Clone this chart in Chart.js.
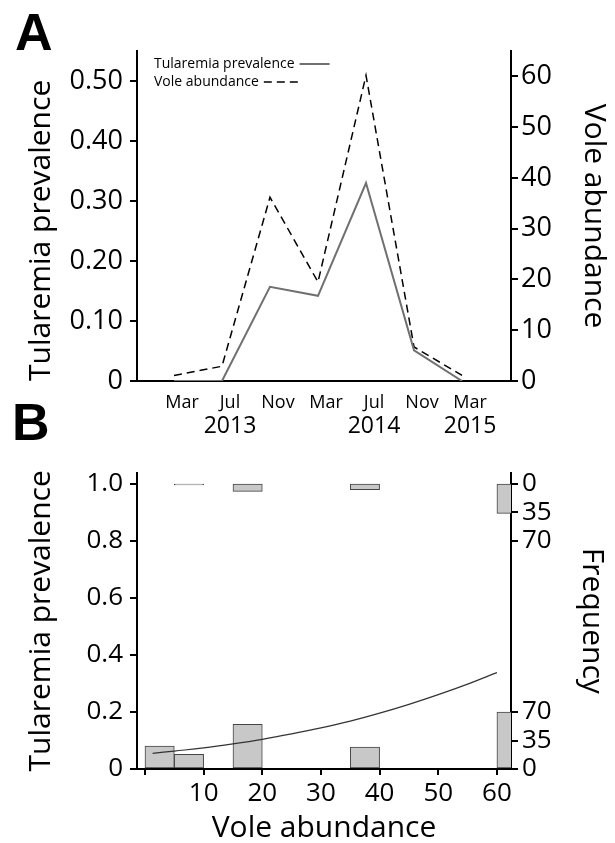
<!DOCTYPE html>
<html>
<head>
<meta charset="utf-8">
<script src="https://cdn.jsdelivr.net/npm/chart.js@4.4.1/dist/chart.umd.min.js"></script>
<style>
  html, body { margin: 0; padding: 0; background: #fff; }
  #wrap { position: relative; width: 615px; height: 843px; overflow: hidden; }
  canvas { position: absolute; left: 0; }
  .panel { position: absolute; font: bold 52px "Liberation Sans", Arial, sans-serif; line-height: 1; color: #000; }
</style>
</head>
<body>
<div id="wrap">
  <canvas id="chartA" width="615" height="450" style="top:0"></canvas>
  <canvas id="chartB" width="615" height="393" style="top:450px"></canvas>
  <div class="panel" style="left:15px;top:6px">A</div>
  <div class="panel" style="left:12px;top:396px">B</div>
</div>
<script>
"use strict";
// panel A: time series
const months = ["Mar", "Jul", "Nov", "Mar", "Jul", "Nov", "Mar"];
const years = ["", "2013", "", "", "2014", "", "2015"];
const prevalence = [0, 0, 0.157, 0.142, 0.33, 0.051, 0];
const voleAbundance = [1.1, 2.9, 36.2, 19.5, 60.2, 6.7, 1.1];
const prevTicksA = [0, 0.1, 0.2, 0.3, 0.4, 0.5];
const voleTicksA = [0, 10, 20, 30, 40, 50, 60];

// panel B: prevalence vs abundance
const voleX = [1.3, 5, 10, 15, 20, 25, 30, 35, 40, 45, 50, 55, 60];
const fittedPrev = [0.055, 0.063, 0.074, 0.088, 0.104, 0.123, 0.144, 0.168, 0.196, 0.227, 0.261, 0.298, 0.338];
const binsNeg = [2.5, 7.5, 17.5, 37.5, 62.5];
const freqNeg = [28, 18, 55, 27, 70];
const binsPos = [7.5, 17.5, 37.5, 62.5];
const freqPos = [1.2, 9, 7, 36];
const prevTicksB = [0, 0.2, 0.4, 0.6, 0.8, 1.0];
const freqTicks = [0, 35, 70];
const abundTicksB = [0, 10, 20, 30, 40, 50, 60];

const FONT = "'Open Sans', sans-serif";
Chart.defaults.font.family = FONT;
Chart.defaults.color = "#000";

const axisBorder = { color: "#000", width: 2 };
const tickGrid = (len) => ({ drawOnChartArea: false, offset: false, color: "#000", lineWidth: 2, tickLength: len });

// legend drawn inside the plot area, text first then the line sample
const insideLegend = {
  id: "insideLegend",
  afterDatasetsDraw(chart) {
    const ctx = chart.ctx;
    ctx.save();
    ctx.font = "14px " + FONT;
    ctx.textBaseline = "middle";
    ctx.fillStyle = "#000";
    chart.data.datasets.forEach((ds, i) => {
      const x = 154, y = 64 + i * 18;
      ctx.fillText(ds.label, x, y);
      const w = ctx.measureText(ds.label).width;
      ctx.beginPath();
      ctx.strokeStyle = ds.borderColor;
      ctx.lineWidth = ds.borderWidth;
      ctx.setLineDash(ds.borderDash || []);
      ctx.moveTo(x + w + 5, y);
      ctx.lineTo(x + w + 5 + (ds.borderDash ? 34 : 30), y);
      ctx.stroke();
    });
    ctx.restore();
  }
};

new Chart(document.getElementById("chartA"), {
  type: "line",
  data: {
    datasets: [
      {
        label: "Tularemia prevalence",
        data: prevalence.map((v, i) => ({ x: i, y: v })),
        borderColor: "#707070",
        borderWidth: 2,
        pointRadius: 0,
        yAxisID: "y",
      },
      {
        label: "Vole abundance",
        data: voleAbundance.map((v, i) => ({ x: i, y: v })),
        borderColor: "#000",
        borderWidth: 1.5,
        borderDash: [8, 5],
        pointRadius: 0,
        yAxisID: "y1",
      },
    ],
  },
  options: {
    responsive: false,
    animation: false,
    layout: { padding: { top: 51, left: 0, right: 0, bottom: 0 } },
    plugins: { legend: { display: false }, tooltip: { enabled: false } },
    scales: {
      x: {
        type: "linear",
        min: -0.77,
        max: 7.02,
        weight: 0,
        afterBuildTicks: (s) => { s.ticks = months.map((m, i) => ({ value: i })); },
        afterFit: (s) => { s.height = 32; },
        ticks: {
          callback: (v) => months[v],
          font: { size: 18 },
          padding: 11,
          labelOffset: 8,
          maxRotation: 0,
          autoSkip: false,
        },
        grid: { drawOnChartArea: false, drawTicks: false },
        border: axisBorder,
      },
      x2: {
        type: "linear",
        position: "bottom",
        min: -0.77,
        max: 7.02,
        weight: 1,
        afterBuildTicks: (s) => {
          s.ticks = years.map((y, i) => ({ value: i })).filter((t) => years[t.value]);
        },
        afterFit: (s) => { s.height = 37; },
        ticks: {
          callback: (v) => years[v],
          font: { size: 23 },
          padding: 0,
          labelOffset: 8,
          maxRotation: 0,
          autoSkip: false,
        },
        grid: { display: false, drawTicks: false },
        border: { display: false },
      },
      y: {
        position: "left",
        min: 0,
        max: 0.55,
        afterBuildTicks: (s) => { s.ticks = prevTicksA.map((v) => ({ value: v })); },
        afterFit: (s) => { s.width = 137; },
        ticks: {
          callback: (v) => (v === 0 ? "0" : v.toFixed(2)),
          font: { size: 27 },
          padding: 7,
        },
        grid: tickGrid(7),
        border: axisBorder,
        title: {
          display: true,
          text: "Tularemia prevalence",
          align: "start",
          font: { size: 30, lineHeight: 1.2 },
          padding: { top: 23, bottom: 0 },
        },
      },
      y1: {
        position: "right",
        min: 0,
        max: 65,
        afterBuildTicks: (s) => { s.ticks = voleTicksA.map((v) => ({ value: v })); },
        afterFit: (s) => { s.width = 104; },
        ticks: { font: { size: 27 }, padding: 3 },
        grid: tickGrid(7),
        border: axisBorder,
        title: {
          display: true,
          text: "Vole abundance",
          font: { size: 30, lineHeight: 1.2 },
          padding: { top: 3, bottom: 0 },
        },
      },
    },
  },
  plugins: [insideLegend],
});

new Chart(document.getElementById("chartB"), {
  type: "bar",
  data: {
    datasets: [
      {
        type: "line",
        label: "Fitted prevalence",
        data: voleX.map((x, i) => ({ x: x, y: fittedPrev[i] })),
        borderColor: "#333",
        borderWidth: 1.2,
        tension: 0.4,
        pointRadius: 0,
        yAxisID: "y",
        order: 0,
      },
      {
        label: "Negative",
        data: binsNeg.map((x, i) => ({ x: x, y: freqNeg[i] })),
        backgroundColor: "#c8c8c8",
        borderColor: "#444",
        borderWidth: 1,
        borderSkipped: false,
        grouped: false,
        barPercentage: 1,
        categoryPercentage: 1,
        yAxisID: "yBot",
        order: 1,
      },
      {
        label: "Positive",
        data: binsPos.map((x, i) => ({ x: x, y: freqPos[i] })),
        backgroundColor: "#c8c8c8",
        borderColor: "#444",
        borderWidth: 1,
        borderSkipped: false,
        grouped: false,
        barPercentage: 1,
        categoryPercentage: 1,
        yAxisID: "yTop",
        order: 1,
      },
    ],
  },
  options: {
    responsive: false,
    animation: false,
    layout: { padding: { top: 14, left: 0, right: 0, bottom: 0 } },
    plugins: { legend: { display: false }, tooltip: { enabled: false } },
    scales: {
      x: {
        type: "linear",
        offset: false,
        min: -1.36,
        max: 62.4,
        afterBuildTicks: (s) => { s.ticks = abundTicksB.map((v) => ({ value: v })); },
        afterFit: (s) => { s.height = 74; },
        ticks: {
          callback: (v) => (v === 0 ? "" : String(v)),
          font: { size: 26 },
          padding: 3,
          maxRotation: 0,
          autoSkip: false,
        },
        grid: tickGrid(6),
        border: axisBorder,
        title: {
          display: true,
          text: "Vole abundance",
          font: { size: 30, lineHeight: 1 },
          padding: { top: 0, bottom: 0 },
        },
      },
      y: {
        position: "left",
        min: 0,
        max: 1.04,
        afterBuildTicks: (s) => { s.ticks = prevTicksB.map((v) => ({ value: v })); },
        afterFit: (s) => { s.width = 137; },
        ticks: {
          callback: (v) => (v === 0 ? "0" : v.toFixed(1)),
          font: { size: 26 },
          padding: 7,
        },
        grid: tickGrid(7),
        border: axisBorder,
        title: {
          display: true,
          text: "Tularemia prevalence",
          font: { size: 30, lineHeight: 1.2 },
          padding: { top: 23, bottom: 0 },
        },
      },
      yBot: {
        position: "right",
        min: 0,
        max: 364,
        afterBuildTicks: (s) => {
          const bottom = freqTicks.map((f) => ({ value: f }));
          const top = freqTicks.map((f) => ({ value: 350 - f }));
          s.ticks = bottom.concat(top.reverse());
        },
        afterFit: (s) => { s.width = 104; },
        ticks: {
          callback: (v) => String(v > 182 ? 350 - v : v),
          font: { size: 26 },
          padding: 4,
        },
        grid: tickGrid(7),
        border: axisBorder,
        title: {
          display: true,
          text: "Frequency",
          font: { size: 30, lineHeight: 1.2 },
          padding: { top: 5, bottom: 0 },
        },
      },
      yTop: {
        display: false,
        reverse: true,
        min: -14,
        max: 350,
      },
    },
  },
});
</script>
</body>
</html>
